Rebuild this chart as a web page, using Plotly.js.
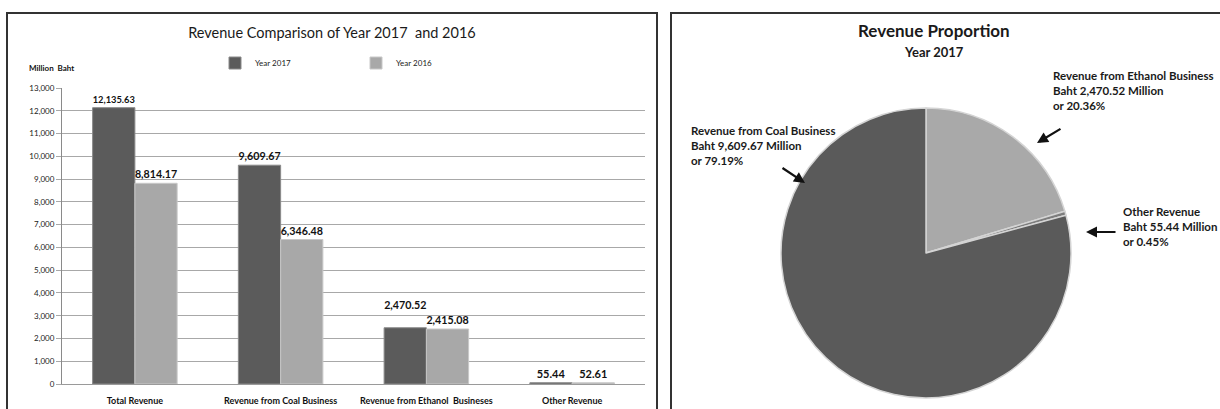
<!DOCTYPE html>
<html><head><meta charset="utf-8">
<script src="https://cdn.plot.ly/plotly-3.0.1.min.js"></script>
<style>html,body{margin:0;padding:0;background:#fff}#chart{width:1220px;height:409px}</style>
</head><body><div id="chart"></div>
<script>
// ---- data ----
const categories = ["Total Revenue", "Revenue from Coal Business", "Revenue from Ethanol  Busineses", "Other Revenue"];
const year2017 = [12135.63, 9609.67, 2470.52, 55.44];
const year2016 = [8814.17, 6346.48, 2415.08, 52.61];
const seriesNames = ["Year 2017", "Year 2016"];
const yTicks = [0,1000,2000,3000,4000,5000,6000,7000,8000,9000,10000,11000,12000,13000];
const pieLabels = ["Revenue from Ethanol Business", "Other Revenue", "Revenue from Coal Business"];
const pieValues = [2470.52, 55.44, 9609.67];
const piePercents = ["20.36%", "0.45%", "79.19%"];

const W = 1220, H = 409;
const px = x => x / W;
const py = y => (H - y) / H;
const narrow = "Lato, Open Sans, sans-serif";
const calib = "Lato, Open Sans, sans-serif";
const lab = '%{y:,.2f}';

const traces = [
  {type:'bar', name:seriesNames[0], x:categories, y:year2017,
   marker:{color:'#5b5b5b', line:{color:'#8a8a8a', width:1}},
   texttemplate:[lab, lab, lab + '<br> ', lab], textposition:'outside', cliponaxis:false,
   textfont:{family:narrow, size:11, color:'#111', weight:'bold'}, hoverinfo:'y'},
  {type:'bar', name:seriesNames[1], x:categories, y:year2016,
   marker:{color:'#a8a8a8', line:{color:'#c8c8c8', width:1}},
   texttemplate:lab, textposition:'outside', cliponaxis:false,
   textfont:{family:narrow, size:11, color:'#111', weight:'bold'}, hoverinfo:'y'},
  {type:'pie', labels:pieLabels, values:pieValues, sort:false, direction:'clockwise', rotation:0,
   textinfo:'none', showlegend:false, hoverinfo:'label+percent',
   marker:{colors:['#a9a9a9','#7d7d7d','#5a5a5a'], line:{color:'#d4d4d4', width:1.5}},
   domain:{x:[px(926-145), px(926+145)], y:[py(253+145), py(253-145)]}}
];

function lbl(x, y, lines, size){
  return {xref:'paper', yref:'paper', x:px(x), y:py(y), xanchor:'left', yanchor:'top', align:'left',
    showarrow:false, text:lines.map(s=>'<b>'+s+'</b>').join('<br>'),
    font:{family:calib, size:size||11.5, color:'#1a1a1a'}};
}
function arrow(hx, hy, tx, ty){
  return {xref:'paper', yref:'paper', x:px(hx), y:py(hy), ax:tx-hx, ay:ty-hy, axref:'pixel', ayref:'pixel',
    text:'', showarrow:true, arrowhead:2, arrowsize:1, arrowwidth:2.2, arrowcolor:'#111'};
}

const fmt = v => v.toLocaleString('en-US',{minimumFractionDigits:2, maximumFractionDigits:2});

const layout = {
  width:W, height:H, margin:{l:0,r:0,t:0,b:0}, paper_bgcolor:'#fff', plot_bgcolor:'#fff',
  barmode:'group', bargap:0.42, bargroupgap:0,
  title:{text:'Revenue Comparison of Year 2017  and 2016', x:px(332), xanchor:'center', y:py(33), yanchor:'middle',
         font:{family:narrow, size:14.5, color:'#1a1a1a'}},
  xaxis:{domain:[px(62), px(645)], showline:true, linecolor:'#9a9a9a', linewidth:1, ticks:'', ticklabelstandoff:8,
         tickfont:{family:narrow, size:9, color:'#111', weight:'bold'}, fixedrange:true},
  yaxis:{domain:[py(384), py(88)], range:[0,13000], tickvals:yTicks, tickformat:',d',
         showline:true, linecolor:'#8a8a8a', linewidth:1, gridcolor:'#a8a8a8', gridwidth:1,
         ticks:'outside', ticklen:5, tickcolor:'#a8a8a8', zeroline:false,
         tickfont:{family:narrow, size:8, color:'#222'}, fixedrange:true},
  legend:{orientation:'h', x:px(215), xanchor:'left', y:py(63), yanchor:'middle',
          entrywidth:96, entrywidthmode:'pixels', font:{family:narrow, size:8, color:'#222'}, bgcolor:'rgba(0,0,0,0)'},
  shapes:[
    {type:'rect', xref:'paper', yref:'paper', x0:px(7), x1:px(657), y0:-0.1, y1:py(13), line:{color:'#333', width:2}},
    {type:'rect', xref:'paper', yref:'paper', x0:px(671), x1:1.1, y0:-0.1, y1:py(13), line:{color:'#333', width:2}}
  ],
  annotations:[
    {xref:'paper', yref:'paper', x:px(27), y:py(68), xanchor:'left', yanchor:'middle', showarrow:false,
     text:'<b>Million  Baht</b>', font:{family:narrow, size:8, color:'#111'}},
    {xref:'paper', yref:'paper', x:px(934), y:py(30), xanchor:'center', yanchor:'middle', showarrow:false,
     text:'<b>Revenue Proportion</b>', font:{family:calib, size:17, color:'#1a1a1a'}},
    {xref:'paper', yref:'paper', x:px(934), y:py(52), xanchor:'center', yanchor:'middle', showarrow:false,
     text:'<b>Year 2017</b>', font:{family:calib, size:13, color:'#1a1a1a'}},
    lbl(1051, 67, [pieLabels[0], 'Baht '+fmt(pieValues[0])+' Million', 'or '+piePercents[0]]),
    lbl(1121, 203, [pieLabels[1], 'Baht '+fmt(pieValues[1])+' Million', 'or '+piePercents[1]]),
    lbl(689, 122, [pieLabels[2], 'Baht '+fmt(pieValues[2])+' Million', 'or '+piePercents[2]]),
    arrow(1037, 143, 1062, 128),
    arrow(1086, 232, 1117, 232),
    arrow(805, 183, 781, 167)
  ]
};
Plotly.newPlot('chart', traces, layout, {staticPlot:true, displayModeBar:false});
</script></body></html>
